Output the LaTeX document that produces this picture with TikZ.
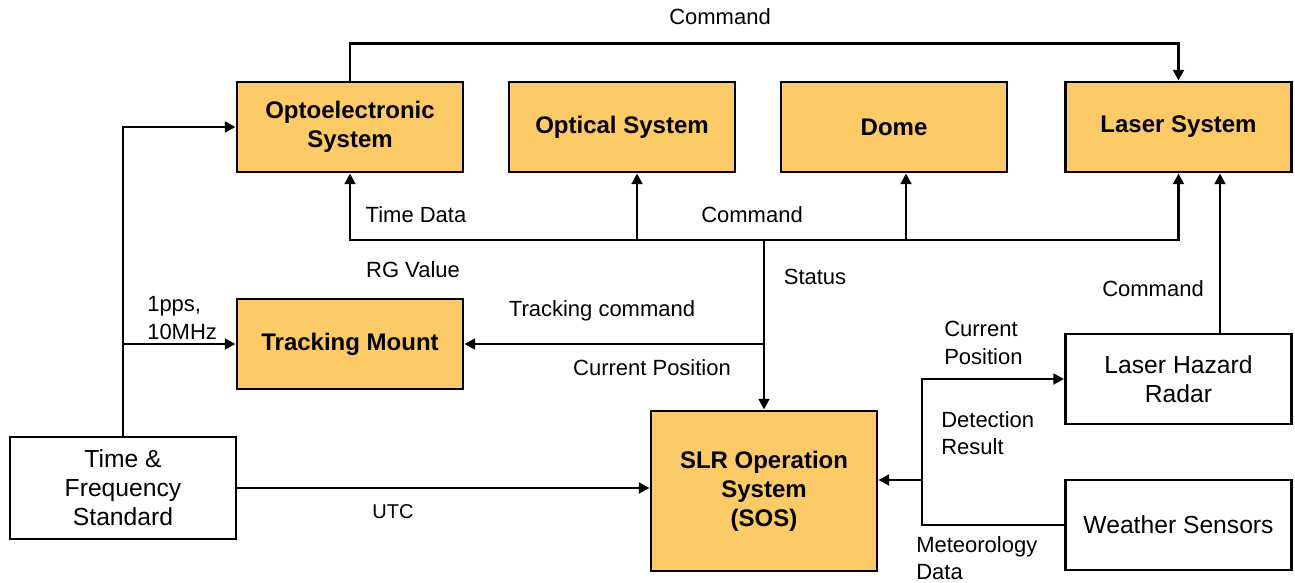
\documentclass[tikz,border=0pt]{standalone}
\usepackage{fontspec}
\setmainfont{Liberation Sans}
\usetikzlibrary{arrows.meta,calc,positioning}
\definecolor{slrgold}{HTML}{FDCA68}
\definecolor{slrink}{HTML}{000000}
\tikzset{
  orangeblock/.style={draw=slrink,fill=slrgold,line width=2.2pt,minimum width=169.5pt,
    minimum height=67.5pt,inner sep=2pt,align=center,font=\fontsize{18}{21.7}\selectfont\bfseries},
  plainblock/.style={draw=slrink,fill=white,line width=2.2pt,minimum width=169.5pt,
    minimum height=67.5pt,inner sep=2pt,align=center,font=\fontsize{18.5}{21.7}\selectfont},
  signalline/.style={draw=slrink,line width=2pt},
  signalarrow/.style={draw=slrink,line width=2pt,-{Triangle[length=8pt,width=8pt]}},
  signallabel/.style={inner sep=0pt,align=left,font=\fontsize{16.5}{20.5}\selectfont},
}
\begin{document}
\begin{tikzpicture}[x=0.75pt,y=-0.75pt]
        \useasboundingbox (0,0) rectangle (1295,582);
        \foreach \n/\x/\y/\t in {opto/350/127/{Optoelectronic\\System},optic/622/127/{Optical System},
          dome/894/127/{Dome},laser/1178.5/127/{Laser System},mount/350/344/{Tracking Mount}}
          {\node[orangeblock] (\n) at (\x,\y) {\t};}
        \node[orangeblock,minimum height=120pt] (sos) at (764,491) {SLR Operation\\System\\(SOS)};
        \node[plainblock,minimum height=76.5pt] (tfs) at (123,488) {Time \&\\Frequency\\Standard};
        \node[plainblock] (radar) at (1178.5,379) {Laser Hazard\\Radar};
        \node[plainblock] (weather) at (1178.5,525) {Weather Sensors};
        \coordinate (hub) at (764,240);
        \coordinate (optictap) at (637,240);
        \coordinate (dometap) at (906,240);
        \coordinate (radartap) at (1220,334);
        \coordinate (junction) at (922,480);
        \draw[signalarrow] (opto.north) -- ++(0,-37) -| (laser.north);
        \draw[signalarrow] (hub) -| (opto.south);
        \draw[signalarrow] (hub) -| (laser.south);
        \draw[signalarrow] (optictap) -- (optictap |- optic.south);
        \draw[signalarrow] (dometap) -- (dometap |- dome.south);
        \draw[signalarrow] (hub) -- (sos.north);
        \draw[signalarrow] (hub |- mount.east) -- (mount.east);
        \draw[signalarrow] (radartap) -- (radartap |- laser.south);
        \draw[signalarrow] (tfs.north) |- (opto.west);
        \draw[signalarrow] (tfs.north |- mount.west) -- (mount.west);
        \draw[signalarrow] (tfs.east) -- (sos.west |- tfs.east);
        \draw[signalarrow] (weather.west) -| (junction |- radar.west) -- (radar.west);
        \draw[signalarrow] (junction) -- (sos.east |- junction);
        \node[signallabel] (lcmdtop) at (720,17) {Command};
        \node[signallabel] (ltime) at (416,215) {Time Data};
        \node[signallabel] (lcmdbus) at (752,215) {Command};
        \node[signallabel] (lrg) at (413,270) {RG Value};
        \node[signallabel] (lstatus) at (815,277) {Status};
        \node[signallabel] (ltrack) at (602,311) {Tracking command};
        \node[signallabel] (lpos) at (652,368) {Current Position};
        \node[signallabel] (lcmdradar) at (1153,289) {Command};
        \node[signallabel,anchor=west] (lpps) at (147,318) {1pps,\\10MHz};
        \node[signallabel,font=\fontsize{15}{18}\selectfont] (lutc) at (393,512) {UTC};
        \node[signallabel,anchor=west] (lradarpos) at (944,343) {Current\\Position};
        \node[signallabel,anchor=west] (ldetect) at (941,433) {Detection\\Result};
        \node[signallabel,anchor=west] (lmeteo) at (916,558) {Meteorology\\Data};
      \end{tikzpicture}
\end{document}
